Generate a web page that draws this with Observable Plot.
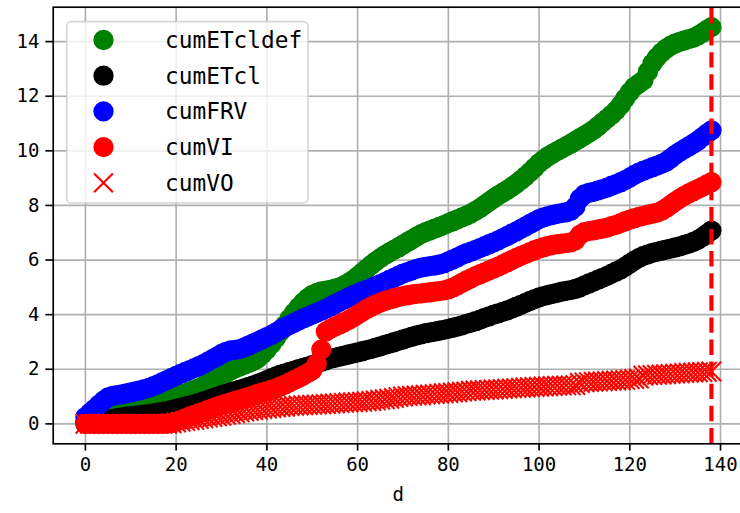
<!DOCTYPE html>
<html><head><meta charset="utf-8">
<script src="https://cdn.jsdelivr.net/npm/d3@7"></script>
<script src="https://cdn.jsdelivr.net/npm/@observablehq/plot@0.6"></script>
<style>body{margin:0;background:#fff} svg{display:block}</style>
</head><body><div id="chart"></div>
<script>
// day index 0..138
const days = Array.from({length: 139}, (_, i) => i);

const cumETcldef = [
  0.05,0.08,0.12,0.17,0.22,0.28,0.33,0.37,0.41,0.45,
  0.49,0.53,0.57,0.61,0.65,0.70,0.75,0.80,0.86,0.93,
  1.00,1.06,1.12,1.18,1.24,1.31,1.39,1.47,1.56,1.65,
  1.75,1.85,1.95,2.03,2.10,2.16,2.23,2.30,2.40,2.55,
  2.72,2.92,3.14,3.38,3.62,3.85,4.07,4.27,4.45,4.60,
  4.72,4.80,4.85,4.88,4.91,4.95,5.00,5.07,5.16,5.27,
  5.40,5.54,5.68,5.82,5.95,6.07,6.18,6.28,6.37,6.46,
  6.56,6.66,6.76,6.86,6.95,7.02,7.09,7.15,7.21,7.28,
  7.35,7.42,7.49,7.56,7.63,7.71,7.80,7.90,8.02,8.14,
  8.26,8.37,8.47,8.57,8.68,8.80,8.93,9.07,9.22,9.38,
  9.55,9.68,9.80,9.90,9.99,10.08,10.17,10.26,10.36,10.46,
  10.56,10.66,10.77,10.90,11.04,11.18,11.32,11.48,11.68,11.92,
  12.15,12.34,12.46,12.58,12.90,13.20,13.42,13.60,13.74,13.85,
  13.93,13.99,14.04,14.09,14.14,14.22,14.32,14.43,14.53
];

const cumETcl = [
  0.02,0.03,0.05,0.07,0.10,0.14,0.18,0.21,0.24,0.26,
  0.28,0.30,0.32,0.34,0.36,0.38,0.41,0.44,0.47,0.51,
  0.55,0.59,0.63,0.67,0.72,0.77,0.82,0.87,0.93,0.99,
  1.05,1.10,1.15,1.20,1.25,1.30,1.35,1.41,1.47,1.53,
  1.60,1.67,1.74,1.80,1.85,1.90,1.95,2.00,2.05,2.10,
  2.15,2.21,2.27,2.33,2.38,2.42,2.46,2.50,2.54,2.58,
  2.62,2.66,2.70,2.74,2.79,2.84,2.89,2.94,2.99,3.04,
  3.09,3.14,3.19,3.24,3.28,3.32,3.35,3.38,3.41,3.44,
  3.48,3.52,3.56,3.61,3.66,3.71,3.76,3.82,3.88,3.94,
  4.00,4.05,4.10,4.16,4.22,4.29,4.36,4.43,4.50,4.57,
  4.63,4.68,4.72,4.76,4.80,4.84,4.87,4.90,4.94,5.00,
  5.07,5.14,5.21,5.28,5.35,5.42,5.50,5.58,5.66,5.76,
  5.87,5.98,6.07,6.15,6.21,6.26,6.30,6.34,6.38,6.42,
  6.46,6.50,6.55,6.60,6.66,6.74,6.84,6.96,7.08
];

const cumFRV = [
  0.25,0.40,0.55,0.70,0.85,0.97,1.02,1.05,1.08,1.12,
  1.15,1.19,1.23,1.27,1.32,1.38,1.45,1.53,1.60,1.68,
  1.76,1.83,1.90,1.97,2.04,2.11,2.19,2.28,2.37,2.46,
  2.56,2.64,2.69,2.71,2.74,2.80,2.87,2.95,3.02,3.10,
  3.18,3.26,3.35,3.45,3.54,3.62,3.70,3.78,3.86,3.93,
  4.00,4.07,4.14,4.21,4.30,4.38,4.47,4.55,4.63,4.71,
  4.78,4.85,4.91,4.98,5.05,5.12,5.19,5.27,5.35,5.43,
  5.50,5.56,5.62,5.68,5.72,5.75,5.78,5.80,5.83,5.88,
  5.95,6.02,6.10,6.18,6.25,6.31,6.37,6.44,6.51,6.58,
  6.65,6.72,6.80,6.88,6.97,7.05,7.14,7.23,7.32,7.41,
  7.50,7.56,7.61,7.65,7.69,7.72,7.75,7.80,7.95,8.25,
  8.40,8.46,8.50,8.55,8.60,8.65,8.72,8.78,8.85,8.93,
  9.02,9.12,9.20,9.27,9.33,9.40,9.46,9.52,9.60,9.72,
  9.85,9.96,10.06,10.16,10.26,10.37,10.50,10.63,10.75
];

const cumVI = [
  0,0,0,0,0,0,0,0,0,0,
  0,0,0,0,0,0,0,0,0,0.03,
  0.08,0.14,0.20,0.27,0.33,0.39,0.45,0.51,0.57,0.63,
  0.69,0.74,0.79,0.84,0.89,0.94,0.99,1.04,1.10,1.15,
  1.20,1.25,1.30,1.37,1.44,1.52,1.60,1.68,1.77,1.86,
  1.96,2.20,2.72,3.38,3.48,3.56,3.64,3.72,3.80,3.90,
  4.00,4.10,4.20,4.29,4.37,4.44,4.50,4.55,4.60,4.64,
  4.68,4.71,4.74,4.76,4.78,4.80,4.82,4.84,4.86,4.89,
  4.93,4.99,5.07,5.16,5.25,5.33,5.41,5.48,5.55,5.62,
  5.69,5.76,5.84,5.92,6.00,6.08,6.15,6.22,6.29,6.36,
  6.42,6.47,6.52,6.55,6.58,6.60,6.62,6.65,6.72,6.92,
  7.02,7.06,7.09,7.12,7.15,7.19,7.24,7.29,7.35,7.42,
  7.48,7.53,7.58,7.62,7.66,7.70,7.74,7.80,7.90,8.02,
  8.14,8.25,8.35,8.44,8.52,8.60,8.68,8.77,8.85
];

const cumVO = [
  0,0,0,0,0,0,0,0,0,0,
  0,0,0,0,0,0,0,0,0,0.02,
  0.05,0.08,0.10,0.13,0.15,0.18,0.20,0.23,0.25,0.28,
  0.30,0.33,0.36,0.39,0.42,0.45,0.47,0.50,0.52,0.54,
  0.56,0.58,0.60,0.62,0.63,0.65,0.66,0.67,0.68,0.69,
  0.70,0.71,0.72,0.73,0.74,0.75,0.76,0.77,0.78,0.79,
  0.80,0.81,0.83,0.84,0.86,0.88,0.90,0.92,0.95,0.98,
  1.00,1.02,1.03,1.04,1.05,1.07,1.08,1.09,1.10,1.12,
  1.13,1.15,1.16,1.18,1.19,1.21,1.22,1.23,1.24,1.25,
  1.26,1.27,1.28,1.29,1.30,1.31,1.32,1.33,1.34,1.35,
  1.36,1.37,1.38,1.39,1.40,1.40,1.41,1.41,1.42,1.50,
  1.52,1.53,1.54,1.55,1.56,1.57,1.58,1.59,1.60,1.61,
  1.63,1.64,1.66,1.76,1.78,1.79,1.80,1.81,1.82,1.83,
  1.84,1.85,1.86,1.87,1.88,1.89,1.90,1.91,1.92
];

const seriesNames = ["cumETcldef", "cumETcl", "cumFRV", "cumVI", "cumVO"];
const seriesColors = ["green", "black", "blue", "red", "red"];
const xTicks = [0, 20, 40, 60, 80, 100, 120, 140];
const yTicks = [0, 2, 4, 6, 8, 10, 12, 14];
const endDay = [138];
const xLabel = "d";

const FONT = "'DejaVu Sans Mono', monospace";
const TICK_FS = 19;
const yDomain = [-0.73, 15.26];
const rows = (vals) => days.map((d, i) => ({d, v: vals[i]}));
const circleSeries = [cumETcldef, cumETcl, cumFRV, cumVI];

const plot = Plot.plot({
  width: 740,
  height: 513,
  marginLeft: 52.7,
  marginRight: -2.7,
  marginTop: 6.7,
  marginBottom: 69.7,
  style: {fontFamily: FONT, fontSize: TICK_FS + "px", background: "white", color: "black", overflow: "hidden"},
  x: {domain: [-7.1, 145.0]},
  y: {domain: yDomain},
  marks: [
    Plot.gridX(xTicks, {stroke: "#b0b0b0", strokeOpacity: 1, strokeWidth: 1.67}),
    Plot.gridY(yTicks, {stroke: "#b0b0b0", strokeOpacity: 1, strokeWidth: 1.67}),
    ...circleSeries.map((vals, k) => Plot.dot(rows(vals), {
      x: "d", y: "v", r: 9.4, fill: seriesColors[k], stroke: seriesColors[k], strokeWidth: 1.5
    })),
    Plot.dot(rows(cumVO), {x: "d", y: "v", r: 8.9, symbol: "times", stroke: seriesColors[4], strokeWidth: 2.08}),
    Plot.ruleX(endDay, {y1: yDomain[0], y2: yDomain[1], stroke: "red", strokeWidth: 4.17, strokeDasharray: "15.4,6.7"}),
    Plot.frame({stroke: "black", strokeWidth: 1.67}),
    Plot.axisX(xTicks, {tickSize: 7.3, tickPadding: 6.5, strokeWidth: 1.67, label: null, fontSize: TICK_FS}),
    Plot.axisY(yTicks, {tickSize: 7.3, tickPadding: 6.5, strokeWidth: 1.67, label: null, fontSize: TICK_FS}),
    Plot.text([xLabel], {frameAnchor: "bottom", dy: 57, fontSize: TICK_FS, text: d => d})
  ]
});

// legend inside the axes (upper left)
const svg = d3.select(plot);
const lg = svg.append("g").attr("text-anchor", "start");
lg.append("rect")
  .attr("x", 66.7).attr("y", 21.7).attr("width", 241.3).attr("height", 181.3)
  .attr("rx", 4.5)
  .attr("fill", "white").attr("fill-opacity", 0.8)
  .attr("stroke", "rgba(204,204,204,0.8)").attr("stroke-width", 1.67);
const rowY0 = 40, rowStep = 35.7, markX = 103.5, textX = 165;
seriesNames.forEach((name, i) => {
  const y = rowY0 + i * rowStep;
  if (i < 4) {
    lg.append("circle").attr("cx", markX).attr("cy", y).attr("r", 9.4)
      .attr("fill", seriesColors[i]).attr("stroke", seriesColors[i]).attr("stroke-width", 1.5);
  } else {
    const h = 9.4;
    lg.append("path")
      .attr("d", `M${markX - h},${y - h}L${markX + h},${y + h}M${markX - h},${y + h}L${markX + h},${y - h}`)
      .attr("stroke", seriesColors[i]).attr("stroke-width", 2.08).attr("fill", "none");
  }
  lg.append("text").attr("x", textX).attr("y", y).attr("dy", "0.35em")
    .attr("text-anchor", "start")
    .attr("font-family", FONT).attr("font-size", 22.8).attr("fill", "black")
    .text(name);
});

document.getElementById("chart").appendChild(plot);
</script>
</body></html>
